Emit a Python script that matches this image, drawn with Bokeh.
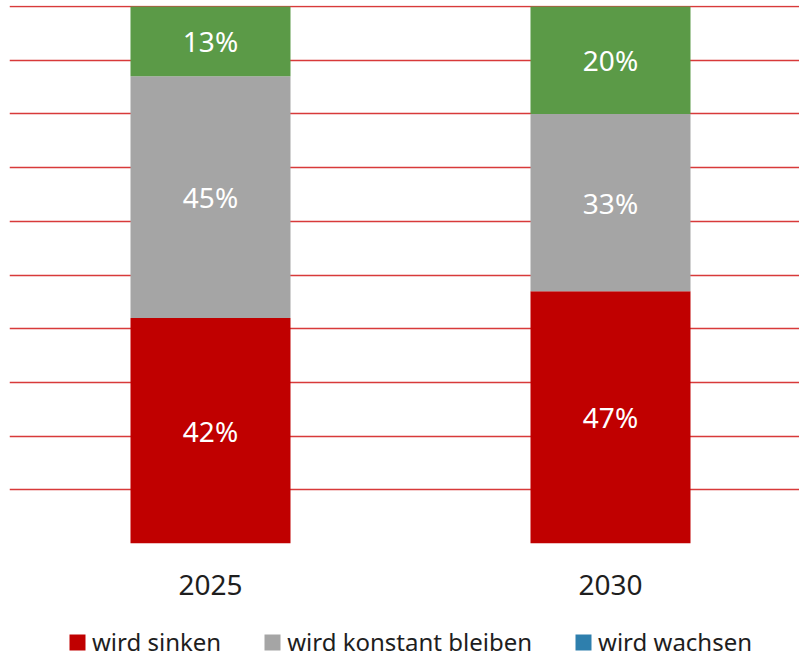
from bokeh.plotting import figure
from bokeh.models import Range1d, FixedTicker, Legend, LegendItem
from bokeh.layouts import column
from bokeh.core.properties import value
from bokeh.embed import file_html
from bokeh.resources import INLINE

years = ["2025", "2030"]
sinken = [42, 47]
konstant = [45, 33]
wachsen = [13, 20]
series_names = ["wird sinken", "wird konstant bleiben", "wird wachsen"]
bar_colors = ["#c00000", "#a5a5a5", "#5b9a47"]
legend_colors = ["#c00000", "#a5a5a5", "#2e7fad"]

FONT = "Noto Sans"

p = figure(width=799, height=606, output_backend="svg", toolbar_location=None,
           x_range=Range1d(-0.5025, 1.4725), y_range=Range1d(0, 100.2),
           min_border_left=9, min_border_right=0, min_border_top=5, min_border_bottom=63)
p.outline_line_color = None
p.background_fill_color = "white"
p.border_fill_color = "white"

xs = list(range(len(years)))
series = [sinken, konstant, wachsen]
bottoms = [0] * len(years)
label_x, label_y, label_t = [], [], []
for vals, col in zip(series, bar_colors):
    tops = [b + v for b, v in zip(bottoms, vals)]
    p.vbar(x=xs, bottom=bottoms, top=tops, width=0.4, fill_color=col, line_color=None)
    for i, v in enumerate(vals):
        label_x.append(xs[i])
        label_y.append((bottoms[i] + tops[i]) / 2)
        label_t.append(f"{v}%")
    bottoms = tops

p.text(x=label_x, y=label_y, text=label_t, text_color="white", text_font=value(FONT),
       text_font_size="28px", text_align="center", text_baseline="middle")

p.xaxis.ticker = FixedTicker(ticks=xs)
p.xaxis.major_label_overrides = {i: y for i, y in enumerate(years)}
p.xaxis.axis_line_color = None
p.xaxis.major_tick_line_color = None
p.xaxis.minor_tick_line_color = None
p.xaxis.major_label_text_font = FONT
p.xaxis.major_label_text_font_size = "28px"
p.xaxis.major_label_text_color = "#1e1e1e"
p.xaxis.major_label_standoff = 25
p.yaxis.visible = False

p.xgrid.grid_line_color = None
p.ygrid.ticker = FixedTicker(ticks=list(range(0, 101, 10)))
p.ygrid.grid_line_color = "#d83a3a"
p.ygrid.grid_line_width = 1.3

# legend strip below the chart
leg = figure(width=799, height=52, output_backend="svg", toolbar_location=None,
             x_range=Range1d(0, 1), y_range=Range1d(0, 1),
             min_border_left=0, min_border_right=0, min_border_top=0, min_border_bottom=0)
leg.axis.visible = False
leg.grid.visible = False
leg.outline_line_color = None
items = []
for name, col in zip(series_names, legend_colors):
    r = leg.vbar(x=[-5], bottom=[0], top=[0], width=0.1, fill_color=col, line_color=None)
    items.append(LegendItem(label=name, renderers=[r]))

legend = Legend(items=items, orientation="horizontal", location=(58, 0),
                label_text_font=FONT, label_text_font_size="24px", label_text_color="#1e1e1e",
                glyph_width=20, glyph_height=20, label_standoff=5, spacing=41,
                padding=0, margin=0, border_line_color=None, background_fill_alpha=0)
leg.add_layout(legend, "center")

layout = column(p, leg, spacing=0)

open("out.html", "w").write(file_html(layout, INLINE))
